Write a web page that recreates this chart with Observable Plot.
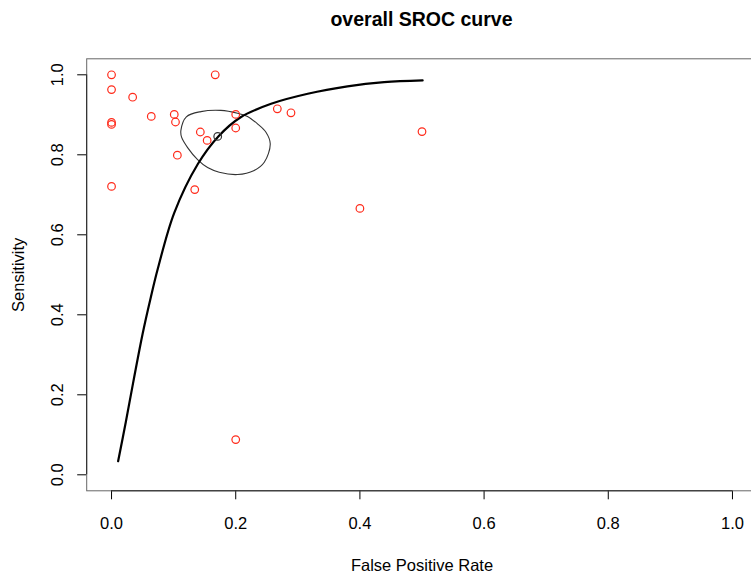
<!DOCTYPE html>
<html>
<head>
<meta charset="utf-8">
<script src="https://cdn.jsdelivr.net/npm/d3@7"></script>
<script src="https://cdn.jsdelivr.net/npm/@observablehq/plot@0.6"></script>
<style>
  html, body { margin: 0; padding: 0; background: #fff; }
  #wrap { position: relative; width: 751px; height: 575px; overflow: hidden; font-family: "Liberation Sans", Arial, Helvetica, sans-serif; }
  #title { position: absolute; left: 0; width: 843px; top: 7px; line-height: 24px; text-align: center; font-weight: bold; font-size: 19.5px; color: #000; }
</style>
</head>
<body>
<div id="wrap"><div id="title">overall SROC curve</div></div>
<script>
// Study points (red open circles)
const studyFpr  = [0, 0, 0.034, 0.167, 0.064, 0.101, 0.103, 0, 0, 0.2, 0.2, 0.143, 0.154, 0.106, 0, 0.134, 0.267, 0.289, 0.5, 0.4, 0.2];
const studySens = [1.0, 0.963, 0.944, 1.0, 0.896, 0.901, 0.882, 0.881, 0.876, 0.901, 0.867, 0.857, 0.836, 0.799, 0.721, 0.713, 0.915, 0.905, 0.858, 0.666, 0.088];

// Summary point
const summaryFpr  = [0.171];
const summarySens = [0.846];

// SROC curve
const curveFpr  = [0.0106, 0.023, 0.036, 0.050, 0.063, 0.0745, 0.101, 0.139, 0.172, 0.208, 0.257, 0.316, 0.380, 0.439, 0.501];
const curveSens = [0.034, 0.132, 0.240, 0.352, 0.442, 0.515, 0.655, 0.777, 0.846, 0.894, 0.9275, 0.9525, 0.971, 0.9815, 0.986];

// Confidence region
const ellFpr  = [0.1205, 0.1439, 0.176, 0.203, 0.219, 0.235, 0.2487, 0.2556, 0.246, 0.2298, 0.203, 0.1734, 0.1547, 0.1386, 0.1225, 0.1128, 0.1117];
const ellSens = [0.895, 0.908, 0.911, 0.904, 0.896, 0.8775, 0.8565, 0.8275, 0.7815, 0.761, 0.7507, 0.7565, 0.768, 0.788, 0.818, 0.844, 0.861];

// Axis ticks
const xTicks = [0, 0.2, 0.4, 0.6, 0.8, 1.0];
const yTicks = [0, 0.2, 0.4, 0.6, 0.8, 1.0];
const axisDomain = [-0.04, 1.04];

const studies = studyFpr.map((x, i) => ({x, y: studySens[i]}));
const summary = summaryFpr.map((x, i) => ({x, y: summarySens[i]}));
const curve = curveFpr.map((x, i) => ({x, y: curveSens[i]}));
const ell = ellFpr.map((x, i) => ({x, y: ellSens[i]}));

const chart = Plot.plot({
  width: 751,
  height: 575,
  marginLeft: 86.2,
  marginRight: -5.8,
  marginTop: 58.3,
  marginBottom: 84.7,
  style: { fontFamily: "Liberation Sans, Arial, Helvetica, sans-serif", fontSize: "16.5px", color: "#000", background: "transparent", overflow: "visible" },
  x: { domain: axisDomain, ticks: xTicks, tickFormat: d3.format(".1f"), tickSize: 9, tickPadding: 17, label: "False Positive Rate", labelArrow: false, labelAnchor: "center", labelOffset: 80 },
  y: { domain: axisDomain, ticks: yTicks, tickFormat: d3.format(".1f"), tickSize: 9, tickPadding: 15, tickRotate: -90, label: "Sensitivity", labelArrow: false, labelAnchor: "center", labelOffset: 74 },
  marks: [
    Plot.frame({ stroke: "#666", strokeWidth: 1 }),
    Plot.ruleY([axisDomain[0]], { x1: xTicks[0], x2: xTicks[xTicks.length - 1], stroke: "#222" }),
    Plot.ruleX([axisDomain[0]], { y1: yTicks[0], y2: yTicks[yTicks.length - 1], stroke: "#222" }),
    Plot.line(ell, { x: "x", y: "y", curve: "catmull-rom-closed", stroke: "#333", strokeWidth: 1.1 }),
    Plot.line(curve, { x: "x", y: "y", curve: "catmull-rom", stroke: "#000", strokeWidth: 2.2 }),
    Plot.dot(studies, { x: "x", y: "y", r: 3.8, stroke: "#ff2a1a", strokeWidth: 1.2, fill: "none" }),
    Plot.dot(summary, { x: "x", y: "y", r: 3.8, stroke: "#333", strokeWidth: 1.2, fill: "none" })
  ]
});
document.getElementById("wrap").appendChild(chart);
</script>
</body>
</html>
